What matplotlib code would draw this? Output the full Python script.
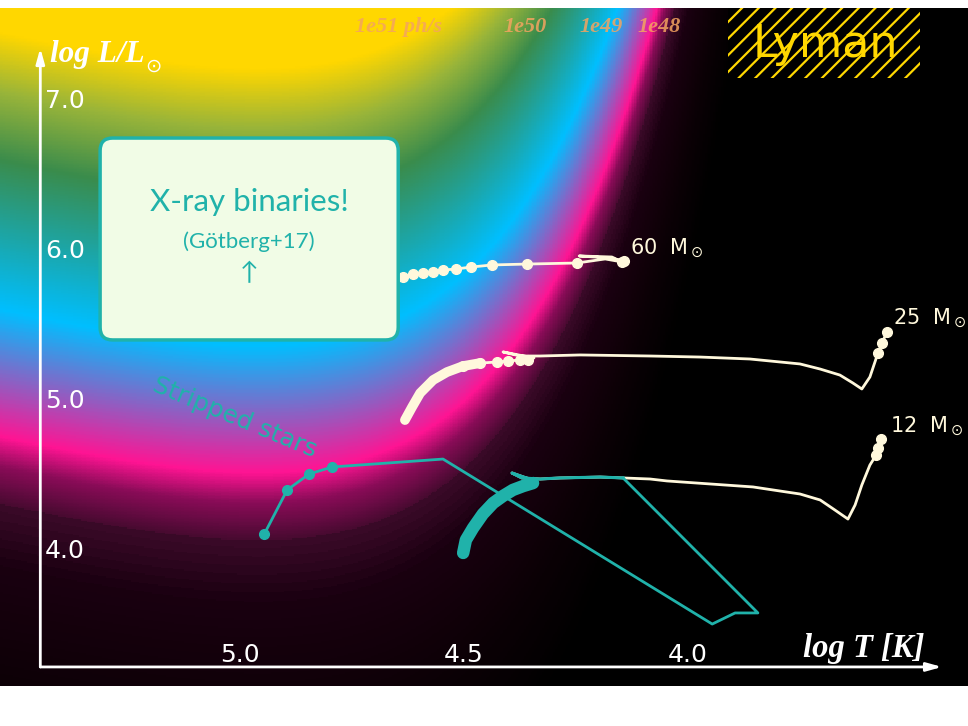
import numpy as np
import matplotlib
matplotlib.use('Agg')
import matplotlib.pyplot as plt
from matplotlib.colors import LinearSegmentedColormap, Normalize
from matplotlib.patches import FancyBboxPatch, Rectangle

plt.rcParams['hatch.linewidth'] = 1.6

# plot window in (log T, log L)
T_LEFT, T_RIGHT = 5.536, 3.375
L_BOT, L_TOP = 3.10, 7.62

# background: H-ionising photon rate of a blackbody, log Q [ph/s]
E_LYMAN = 13.6      # eV
LOG_LSUN = np.log10(3.828e33)
TILT = 0.3          # slight slope so the shading lines up with the reference
BAND = 0.06         # step of the faint rings in the dark part
BAND_TOP = 48.05
q_levels = [45.8, 46.8, 47.6, 48.0, 48.3, 48.5, 49.35, 50.35, 50.8, 51.2, 52.0]
q_colors = ['#000000', '#0c0006', '#1a0010', '#3a0a28', '#8a0c58', '#ff1493',
            '#00bfff', '#3a8c4c', '#98b43a', '#ffd700', '#ffd700']

# evolutionary tracks (log T, log L)
t60 = [4.732, 4.688, 4.636, 4.614, 4.592, 4.569, 4.547, 4.518, 4.484, 4.438, 4.359,
       4.248, 4.185, 4.147, 4.170, 4.243, 4.176, 4.143]
l60 = [5.773, 5.800, 5.827, 5.847, 5.853, 5.860, 5.873, 5.880, 5.893, 5.907, 5.913,
       5.920, 5.947, 5.927, 5.960, 5.967, 5.953, 5.933]
dots60 = [0, 1, 2, 3, 4, 5, 6, 7, 8, 9, 10, 11, 13, 17]

t25 = [4.632, 4.616, 4.598, 4.569, 4.538, 4.502, 4.464, 4.426, 4.402, 4.375, 4.357,
       4.344, 4.413, 4.375, 4.330, 4.241, 4.085, 3.973, 3.862, 3.750, 3.705, 3.661,
       3.632, 3.612, 3.594, 3.576, 3.567, 3.556]
l25 = [4.873, 4.960, 5.053, 5.140, 5.193, 5.233, 5.253, 5.260, 5.267, 5.273, 5.273,
       5.287, 5.327, 5.300, 5.300, 5.307, 5.300, 5.293, 5.280, 5.247, 5.213, 5.173,
       5.120, 5.080, 5.160, 5.320, 5.387, 5.460]
thick25 = 7
dots25 = [5, 6, 7, 8, 9, 10, 25, 26, 27]

t12 = [4.502, 4.496, 4.480, 4.458, 4.435, 4.413, 4.391, 4.368, 4.346, 4.342, 4.393,
       4.371, 4.330, 4.286, 4.196, 4.145, 4.085, 4.047, 3.951, 3.855, 3.795, 3.750,
       3.705, 3.672, 3.643, 3.627, 3.612, 3.594, 3.580, 3.576, 3.569]
l12 = [3.987, 4.073, 4.153, 4.247, 4.320, 4.367, 4.407, 4.433, 4.453, 4.467, 4.520,
       4.487, 4.480, 4.487, 4.493, 4.487, 4.480, 4.467, 4.447, 4.427, 4.400, 4.380,
       4.340, 4.273, 4.213, 4.307, 4.440, 4.573, 4.640, 4.687, 4.747]
thick12 = 9
teal12 = 16
dots12 = [28, 29, 30]

# stripped stars and the region they span
t_strip = [4.946, 4.895, 4.846, 4.795, 4.547, 3.946, 3.895, 3.844, 4.145]
l_strip = [4.113, 4.407, 4.513, 4.560, 4.613, 3.513, 3.587, 3.587, 4.487]
dots_strip = [0, 1, 2, 3]

tick_T = [5.0, 4.5, 4.0]
tick_L = [7.0, 6.0, 5.0, 4.0]
q_labels = ['1e51 ph/s', '1e50', '1e49', '1e48']
q_label_T = [4.743, 4.413, 4.243, 4.112]

CREAM = '#fff8dc'
TEAL = '#20b2aa'


def log_q(logT, logL):
    kT = 8.617e-5 * 10**logT
    x0 = E_LYMAN / kT
    n = np.arange(1, 400)[:, None]
    tail = (np.exp(-n * x0) * (x0**2 / n + 2 * x0 / n**2 + 2 / n**3)).sum(axis=0)
    q_per_l = tail / (kT * 1.602e-12 * np.pi**4 / 15)
    f = np.log10(q_per_l) + TILT * (logT - 4.6)
    return logL[:, None] + LOG_LSUN + f[None, :]


fig = plt.figure(figsize=(9.68, 7.26), dpi=100)
ax = fig.add_axes([0, 40 / 726, 1, 678 / 726])
ax.set_facecolor('black')

grid_T = np.linspace(T_LEFT, T_RIGHT, 600)
grid_L = np.linspace(L_BOT, L_TOP, 500)
lq = log_q(grid_T, grid_L)
dark = lq < BAND_TOP
lq[dark] = np.floor(lq[dark] / BAND) * BAND
pos = [(v - q_levels[0]) / (q_levels[-1] - q_levels[0]) for v in q_levels]
cmap = LinearSegmentedColormap.from_list('lyman', list(zip(pos, q_colors)), N=1024)
ax.imshow(lq, extent=[T_LEFT, T_RIGHT, L_BOT, L_TOP], origin='lower', aspect='auto',
          cmap=cmap, norm=Normalize(q_levels[0], q_levels[-1]), interpolation='nearest',
          zorder=0)
ax.set_xlim(T_LEFT, T_RIGHT)
ax.set_ylim(L_BOT, L_TOP)
ax.axis('off')

# tracks
ax.plot(t60, l60, color=CREAM, lw=2, zorder=3, solid_capstyle='round')
ax.plot([t60[i] for i in dots60], [l60[i] for i in dots60], 'o', color=CREAM, ms=7, zorder=3)
ax.plot(t25, l25, color=CREAM, lw=2, zorder=3)
ax.plot(t25[:thick25], l25[:thick25], color=CREAM, lw=7, solid_capstyle='round', zorder=3)
ax.plot([t25[i] for i in dots25], [l25[i] for i in dots25], 'o', color=CREAM, ms=7, zorder=3)
ax.plot(t12, l12, color=CREAM, lw=2, zorder=3)
ax.plot([t12[i] for i in dots12], [l12[i] for i in dots12], 'o', color=CREAM, ms=7, zorder=3)
ax.plot(t12[:thick12], l12[:thick12], color=TEAL, lw=9, solid_capstyle='round', zorder=4)
ax.plot(t12[thick12 - 1:teal12], l12[thick12 - 1:teal12], color=TEAL, lw=2.2, zorder=4)

ax.plot(t_strip, l_strip, color=TEAL, lw=2, zorder=4)
ax.plot([t_strip[i] for i in dots_strip], [l_strip[i] for i in dots_strip], 'o',
        color=TEAL, ms=7, zorder=4)

ax.text(4.129, 6.02, '60  M$_\\odot$', color=CREAM, fontsize=15, va='center', ha='left', zorder=5)
ax.text(3.542, 5.553, '25  M$_\\odot$', color=CREAM, fontsize=15, va='center', ha='left', zorder=5)
ax.text(3.549, 4.833, '12  M$_\\odot$', color=CREAM, fontsize=15, va='center', ha='left', zorder=5)

ax.text(5.011, 4.893, 'Stripped stars', color=TEAL, fontsize=18, rotation=-22.5,
        ha='center', va='center', rotation_mode='anchor', zorder=5)

# X-ray binaries box
box = FancyBboxPatch((4.647, 5.407), 0.6655, 1.346,
                     boxstyle='round,pad=0,rounding_size=0.028', mutation_aspect=3.0,
                     facecolor='#f1fce6', edgecolor=TEAL, lw=2.5, zorder=6)
ax.add_patch(box)
ax.text(4.98, 6.327, 'X-ray binaries!', color=TEAL, fontsize=22.5, family=['Lato', 'DejaVu Sans'],
        ha='center', va='center', zorder=7)
ax.text(4.98, 6.06, '(Götberg+17)', color=TEAL, fontsize=16, family=['Lato', 'DejaVu Sans'],
        ha='center', va='center', zorder=7)
ax.text(4.98, 5.853, '↑', color=TEAL, fontsize=18, family=['Lato', 'DejaVu Sans'],
        ha='center', va='center', zorder=7)

# photon-rate labels along the top
for lab, t in zip(q_labels, q_label_T):
    ax.text(t, 7.493, lab, color='#f4a460', alpha=0.85, fontsize=16, family='Liberation Serif',
            style='italic', weight='bold', ha='left', va='center', zorder=5)

# Lyman tag
ax.add_patch(Rectangle((3.482, 7.153), 0.429, 0.5, facecolor='black', edgecolor='#ffd700',
                       hatch='//', lw=0, zorder=5))
ax.text(3.694, 7.38, 'Lyman', color='#ffd700', fontsize=32, ha='center', va='center', zorder=6)

# hand-drawn axes
arrow = dict(arrowstyle='-|>,head_length=0.9,head_width=0.25', color='white', lw=2,
             shrinkA=0, shrinkB=0)
ax.annotate('', xy=(3.433, 3.227), xytext=(5.446, 3.227), arrowprops=arrow, zorder=8)
ax.annotate('', xy=(5.446, 7.353), xytext=(5.446, 3.227), arrowprops=arrow, zorder=8)
for t in tick_T:
    ax.text(t, 3.307, f'{t:.1f}', color='white', fontsize=18, ha='center', va='center', zorder=8)
for l in tick_L:
    ax.text(5.435, l, f'{l:.1f}', color='white', fontsize=18, ha='left', va='center', zorder=8)

ylab = ax.text(5.424, 7.307, 'log L/L', color='white', fontsize=22.5, family='Liberation Serif',
               style='italic', weight='bold', ha='left', va='center', zorder=8)
ax.annotate('⊙', xy=(1.0, 0.1), xycoords=ylab, color='white', fontsize=14, ha='left',
            va='center', zorder=8)
ax.text(3.471, 3.353, 'log T [K]', color='white', fontsize=23.5, family='Liberation Serif',
        style='italic', weight='bold', ha='right', va='center', zorder=8)

fig.savefig('out.png', dpi=100, facecolor='white')
